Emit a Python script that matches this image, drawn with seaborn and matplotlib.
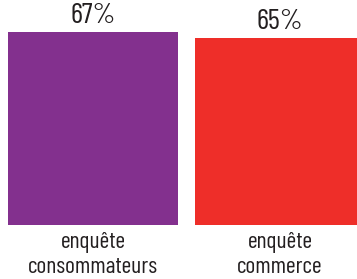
import matplotlib
matplotlib.use("Agg")
import matplotlib.pyplot as plt
import seaborn as sns
import pandas as pd

categories = ["enquête\nconsommateurs", "enquête\ncommerce"]
values = [67, 65]
labels = ["67%", "65%"]
colors = ["#83308E", "#EE2E29"]

sns.set_style("white")
plt.rcParams['font.family'] = ['Barlow Condensed', 'DejaVu Sans']
plt.rcParams['font.weight'] = 400

df = pd.DataFrame({"cat": categories, "val": values})

fig = plt.figure(figsize=(3.57, 2.79), dpi=100)
ax = fig.add_axes([0, (279 - 225) / 279, 1, (225 - 32) / 279])
sns.barplot(data=df, x="cat", y="val", hue="cat", palette=colors, width=0.909,
            legend=False, ax=ax, saturation=1, linewidth=0, edgecolor="none")
ax.set_xlim(-0.4973, 1.4118)
ax.set_ylim(0, 67)
for c, lab in zip(ax.containers, labels):
    ax.bar_label(c, labels=[lab], padding=2, fontsize=21, color="#231F20")
ax.set_xlabel("")
ax.set_ylabel("")
ax.set_yticks([])
ax.tick_params(axis="x", length=0, pad=5)
for t in ax.get_xticklabels():
    t.set_fontsize(17)
    t.set_color("#231F20")
    t.set_linespacing(1.25)
sns.despine(ax=ax, left=True, bottom=True)
fig.savefig("out.png", dpi=100)
